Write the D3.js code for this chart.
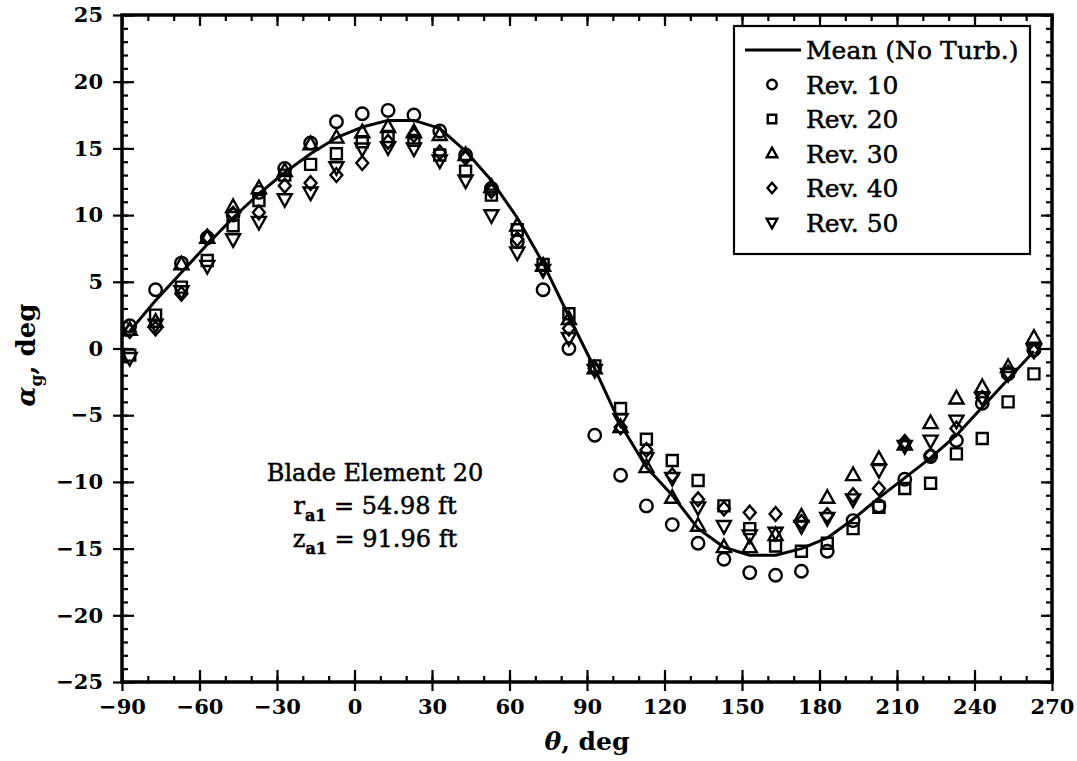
<!DOCTYPE html>
<html>
<head>
<meta charset="utf-8">
<script src="https://cdn.jsdelivr.net/npm/d3@7"></script>
<style>
  body { margin: 0; background: #fff; }
  svg { display: block; }
  text { font-family: "DejaVu Serif", serif; fill: #000; }
  .axis text { font-weight: bold; font-size: 21px; }
  .axis line { stroke: #000; stroke-width: 2.2; }
  .heavy { stroke: #000; stroke-width: 0.5px; }
</style>
</head>
<body>
<svg id="chart"></svg>
<script>
// azimuth of each sample, deg
const theta = [-87, -77, -67, -57, -47, -37, -27, -17, -7, 3, 13, 23, 33, 43, 53, 63, 73, 83,
  93, 103, 113, 123, 133, 143, 153, 163, 173, 183, 193, 203, 213, 223, 233, 243, 253, 263];

const meanNoTurb = [1.3, 3.6, 5.7, 7.8, 9.8, 11.6, 13.2, 14.6, 15.8, 16.6, 17.1, 17.1, 16.5, 14.8, 12.6, 9.8, 6.4, 2.4,
  -1.5, -5.7, -8.9, -11.0, -13.5, -14.9, -15.5, -15.5, -15.0, -14.2, -12.8, -11.2, -9.7, -8.2, -6.5, -4.4, -2.3, -0.2];

const rev10 = [1.7, 4.4, 6.4, 8.3, 10.0, 11.7, 13.5, 15.4, 17.0, 17.6, 17.85, 17.5, 16.3, 14.5, 12.0, 8.0, 4.4, 0.0,
  -6.5, -9.5, -11.8, -13.2, -14.6, -15.8, -16.8, -17.0, -16.7, -15.2, -12.9, -11.8, -9.8, -8.1, -6.9, -4.1, -1.9, -0.1];

const rev20 = [-0.5, 2.5, 4.6, 6.6, 9.2, 11.1, 13.0, 13.8, 14.6, 15.5, 15.9, 15.6, 14.5, 13.3, 11.5, 8.9, 6.3, 2.6,
  -1.3, -4.5, -6.8, -8.4, -9.9, -11.8, -13.5, -14.8, -15.2, -14.6, -13.5, -11.9, -10.5, -10.1, -7.9, -6.75, -4.0, -1.9];

const rev30 = [1.4, 2.0, 6.3, 8.3, 10.6, 12.0, 13.3, 15.3, 15.8, 16.2, 16.6, 16.2, 16.0, 14.5, 12.1, 9.2, 6.2, 2.2,
  -1.5, -5.9, -8.9, -11.2, -13.3, -14.9, -14.9, -14.0, -12.6, -11.2, -9.5, -8.3, -7.2, -5.6, -3.75, -2.9, -1.4, 0.8];

const rev40 = [1.3, 1.5, 4.1, 8.4, 10.1, 10.2, 12.2, 12.4, 13.0, 13.9, 15.5, 16.0, 14.7, 14.3, 11.8, 8.2, 6.0, 1.5,
  -1.5, -5.9, -7.6, -9.5, -11.3, -12.0, -12.3, -12.4, -13.0, -12.5, -11.0, -10.5, -7.0, -8.0, -6.0, -3.7, -1.8, -0.2];

const rev50 = [-0.7, 1.8, 4.3, 6.2, 8.2, 9.5, 11.2, 11.7, 13.6, 15.0, 15.1, 15.0, 14.1, 12.6, 10.0, 7.2, 5.9, 0.8,
  -1.6, -5.3, -8.2, -9.7, -11.9, -13.3, -14.0, -13.8, -13.3, -12.7, -11.3, -9.1, -7.3, -6.9, -5.4, -3.7, -1.9, -0.1];

const xTicks = [-90, -60, -30, 0, 30, 60, 90, 120, 150, 180, 210, 240, 270];
const yTicks = [-25, -20, -15, -10, -5, 0, 5, 10, 15, 20, 25];

const seriesNames = ['Rev. 10', 'Rev. 20', 'Rev. 30', 'Rev. 40', 'Rev. 50'];
const seriesValues = [rev10, rev20, rev30, rev40, rev50];
const seriesShapes = ['circle', 'square', 'triangle', 'diamond', 'invTriangle'];

const W = 1077, H = 761;
const margin = {top: 15, right: 25, bottom: 79, left: 122};
const width = W - margin.left - margin.right;
const height = H - margin.top - margin.bottom;

const svg = d3.select('#chart').attr('width', W).attr('height', H);
const chart = svg.append('g').attr('transform', `translate(${margin.left},${margin.top})`);

const xScale = d3.scaleLinear().domain([-90, 270]).range([0, width]);
const yScale = d3.scaleLinear().domain([-25, 25]).range([height, 0]);

// marker outlines, s = nominal size in px
function shapePath(kind, s) {
  const h = s / 2;
  if (kind === 'circle') return d3.symbol(d3.symbolCircle, Math.PI * h * h)();
  if (kind === 'square') return `M${-h},${-h}H${h}V${h}H${-h}Z`;
  if (kind === 'diamond') return `M0,${-h * 1.1}L${h * 0.95},0L0,${h * 1.1}L${-h * 0.95},0Z`;
  const t = s * 0.56;
  if (kind === 'triangle') return `M0,${-t * 1.1}L${t},${t * 0.7}L${-t},${t * 0.7}Z`;
  return `M0,${t * 1.1}L${t},${-t * 0.7}L${-t},${-t * 0.7}Z`;
}
const markerSize = {circle: 12.5, square: 11, triangle: 12.5, diamond: 12.5, invTriangle: 12.5};

// minor ticks (inside) on all four sides
const xMinor = d3.range(-90, 271, 10);
const yMinor = d3.range(-25, 26, 1);

chart.append('g').attr('class', 'axis')
  .attr('transform', `translate(0,${height})`)
  .call(d3.axisTop(xScale).tickValues(xMinor).tickSize(6).tickFormat(''))
  .call(g => g.select('.domain').remove());
chart.append('g').attr('class', 'axis')
  .call(d3.axisBottom(xScale).tickValues(xMinor).tickSize(6).tickFormat(''))
  .call(g => g.select('.domain').remove());
chart.append('g').attr('class', 'axis')
  .call(d3.axisRight(yScale).tickValues(yMinor).tickSize(6).tickFormat(''))
  .call(g => g.select('.domain').remove());
chart.append('g').attr('class', 'axis')
  .attr('transform', `translate(${width},0)`)
  .call(d3.axisLeft(yScale).tickValues(yMinor).tickSize(6).tickFormat(''))
  .call(g => g.select('.domain').remove());

// major ticks: inward part
chart.append('g').attr('class', 'axis')
  .attr('transform', `translate(0,${height})`)
  .call(d3.axisTop(xScale).tickValues(xTicks).tickSize(12).tickFormat(''))
  .call(g => g.select('.domain').remove());
chart.append('g').attr('class', 'axis')
  .call(d3.axisBottom(xScale).tickValues(xTicks).tickSize(11).tickFormat(''))
  .call(g => g.select('.domain').remove());
chart.append('g').attr('class', 'axis')
  .call(d3.axisRight(yScale).tickValues(yTicks).tickSize(12).tickFormat(''))
  .call(g => g.select('.domain').remove());
chart.append('g').attr('class', 'axis')
  .attr('transform', `translate(${width},0)`)
  .call(d3.axisLeft(yScale).tickValues(yTicks).tickSize(11).tickFormat(''))
  .call(g => g.select('.domain').remove());

// major ticks: outward part with labels
chart.append('g').attr('class', 'axis')
  .attr('transform', `translate(0,${height})`)
  .call(d3.axisBottom(xScale).tickValues(xTicks).tickSize(9).tickPadding(8))
  .call(g => g.select('.domain').remove());
chart.append('g').attr('class', 'axis')
  .call(d3.axisLeft(yScale).tickValues(yTicks).tickSize(9).tickPadding(10))
  .call(g => g.select('.domain').remove());

// frame
chart.append('rect')
  .attr('width', width).attr('height', height)
  .attr('fill', 'none').attr('stroke', '#000').attr('stroke-width', 3.5);

// data markers
seriesValues.forEach((vals, i) => {
  chart.append('g').selectAll('path')
    .data(theta.map((t, j) => ({t, v: vals[j]})))
    .join('path')
    .attr('d', shapePath(seriesShapes[i], markerSize[seriesShapes[i]]))
    .attr('transform', d => `translate(${xScale(d.t)},${yScale(d.v)})`)
    .attr('fill', 'none')
    .attr('stroke', '#000')
    .attr('stroke-width', 2.4);
});

// mean curve
chart.append('path')
  .datum(theta.map((t, j) => ({t, v: meanNoTurb[j]})))
  .attr('fill', 'none')
  .attr('stroke', '#000')
  .attr('stroke-width', 3)
  .attr('stroke-linejoin', 'round')
  .attr('d', d3.line().x(d => xScale(d.t)).y(d => yScale(d.v)));

// legend
const legend = svg.append('g');
legend.append('rect')
  .attr('x', 734).attr('y', 26).attr('width', 296).attr('height', 228)
  .attr('fill', '#fff').attr('stroke', '#000').attr('stroke-width', 2.2);
const rowY = i => 50 + i * 34.5;
legend.append('line')
  .attr('x1', 745).attr('x2', 801).attr('y1', rowY(0)).attr('y2', rowY(0))
  .attr('stroke', '#000').attr('stroke-width', 3);
legend.append('text').attr('class', 'heavy')
  .attr('x', 806).attr('y', rowY(0)).attr('dy', '0.36em')
  .style('font-size', '25px').text('Mean (No Turb.)');
seriesNames.forEach((name, i) => {
  legend.append('path')
    .attr('d', shapePath(seriesShapes[i], seriesShapes[i] === 'square' ? 8.5 : 9.5))
    .attr('transform', `translate(772,${rowY(i + 1)})`)
    .attr('fill', 'none').attr('stroke', '#000').attr('stroke-width', 2.4);
  legend.append('text').attr('class', 'heavy')
    .attr('x', 806).attr('y', rowY(i + 1)).attr('dy', '0.36em')
    .style('font-size', '25px').text(name);
});

// annotation
const note = svg.append('g').attr('class', 'heavy').style('font-size', '24px').attr('text-anchor', 'middle');
note.append('text').attr('x', 375).attr('y', 481).text('Blade Element 20');
const r = note.append('text').attr('x', 375).attr('y', 514);
r.append('tspan').text('r');
r.append('tspan').attr('dy', 7).style('font-size', '16px').style('font-weight', 'bold').text('a1');
r.append('tspan').attr('dy', -7).text(' = 54.98 ft');
const z = note.append('text').attr('x', 375).attr('y', 547);
z.append('tspan').text('z');
z.append('tspan').attr('dy', 7).style('font-size', '16px').style('font-weight', 'bold').text('a1');
z.append('tspan').attr('dy', -7).text(' = 91.96 ft');

// axis titles
svg.append('text')
  .attr('x', margin.left + width / 2).attr('y', 750)
  .attr('text-anchor', 'middle')
  .style('font-size', '25px').style('font-weight', 'bold')
  .call(t => {
    t.append('tspan').style('font-style', 'italic').text('θ');
    t.append('tspan').text(', deg');
  });

svg.append('text')
  .attr('transform', 'translate(35,355) rotate(-90)')
  .attr('text-anchor', 'middle')
  .style('font-size', '26px').style('font-weight', 'bold')
  .call(t => {
    t.append('tspan').style('font-style', 'italic').text('α');
    t.append('tspan').attr('dy', 7).style('font-size', '17px').text('g');
    t.append('tspan').attr('dy', -7).text(', deg');
  });
</script>
</body>
</html>
